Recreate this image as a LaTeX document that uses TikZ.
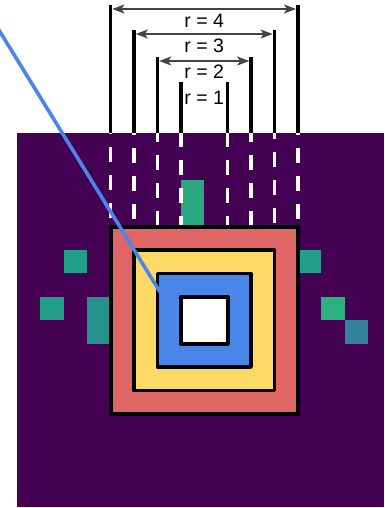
\documentclass[tikz,border=0pt]{standalone}
\usepackage{fontspec}
\setmainfont{Liberation Sans}
\usetikzlibrary{arrows.meta}
\definecolor{bgpurple}{HTML}{440154}
\definecolor{sqred}{HTML}{E06666}
\definecolor{sqyellow}{HTML}{FFD966}
\definecolor{sqblue}{HTML}{4A86E8}
\definecolor{arrowgray}{HTML}{444444}
\definecolor{cellA}{HTML}{2AA882}
\definecolor{cellB}{HTML}{22A087}
\definecolor{cellC}{HTML}{24938B}
\definecolor{cellD}{HTML}{2AB280}
\definecolor{cellE}{HTML}{33819A}
\tikzset{
  ring/.style={draw=black, line width=3.8pt, line join=round},
  rline/.style={draw=black, line width=3.5pt},
  wdash/.style={draw=white, line width=3.5pt, dash pattern=on 15pt off 13pt},
  dimarrow/.style={draw=arrowgray, line width=1.6pt, {Stealth[length=12pt,width=9pt,inset=3pt]}-{Stealth[length=12pt,width=9pt,inset=3pt]}},
  rlabel/.style={font=\fontsize{19.5}{21}\selectfont, text=black, anchor=base, inner sep=0pt},
  pointer/.style={draw=sqblue, line width=3.6pt}
}
\begin{document}
\begin{tikzpicture}[x=1pt,y=-1pt]
\useasboundingbox (0,0) rectangle (384,508);
\fill[white] (0,0) rectangle (384,508);
% heat map background
\fill[bgpurple] (17,133) rectangle (384,507);
\begin{scope}[shift={(17,133)}, x=23.4pt, y=-23.4pt]
  \fill[cellA] (7,2) rectangle (8,4);
  \fill[cellB] (2,5) rectangle (3,6);
  \fill[cellB] (1,7) rectangle (2,8);
  \fill[cellC] (3,7) rectangle (4,9);
  \fill[cellB] (12,5) rectangle (13,6);
  \fill[cellD] (13,7) rectangle (14,8);
  \fill[cellE] (14,8) rectangle (15,9);
\end{scope}
% black radius lines
\foreach \n/\x/\t in {a/110.6/5, b/297.8/5, c/134/30, d/274.4/30, e/157.4/57, f/251/57, g/180.8/82, h/227.6/82}{
  \coordinate (\n top) at (\x,\t);
  \coordinate (\n bot) at (\x,133);
  \draw[rline] (\n top) -- (\n bot);
}
% white dashed continuation lines
\foreach \n/\x/\p in {a/110.6/14, c/134/13, e/157.4/6, g/180.8/1, h/227.6/1, f/251/6, d/274.4/9, b/297.8/13}{
  \coordinate (\n d1) at (\x,133);
  \coordinate (\n d2) at (\x,226);
  \draw[wdash, dash phase=\p pt] (\n d1) -- (\n d2);
}
% nested squares
\draw[ring, fill=sqred] (110.6,226.6) rectangle (297.8,413.8);
\draw[ring, fill=sqyellow] (134,250) rectangle (274.4,390.4);
\draw[ring, fill=sqblue] (157.4,273.4) rectangle (251,367);
\draw[ring, fill=white] (180.8,296.8) rectangle (227.6,343.6);
% dimension arrows
\coordinate (r4l) at (112.4,9);  \coordinate (r4r) at (296,9);
\coordinate (r3l) at (135.8,34); \coordinate (r3r) at (272.6,34);
\coordinate (r2l) at (159.2,61); \coordinate (r2r) at (249.2,61);
\draw[dimarrow] (r4l) -- (r4r);
\draw[dimarrow] (r3l) -- (r3r);
\draw[dimarrow] (r2l) -- (r2r);
\node[rlabel] (t4) at (204.2,28) {r = 4};
\node[rlabel] (t3) at (204.2,53) {r = 3};
\node[rlabel] (t2) at (204.2,79) {r = 2};
\node[rlabel] (t1) at (204.2,104.5) {r = 1};
% pointer line
\coordinate (pstart) at (-6,22);
\coordinate (pend) at (160,292);
\draw[pointer] (pstart) -- (pend);
\end{tikzpicture}
\end{document}
